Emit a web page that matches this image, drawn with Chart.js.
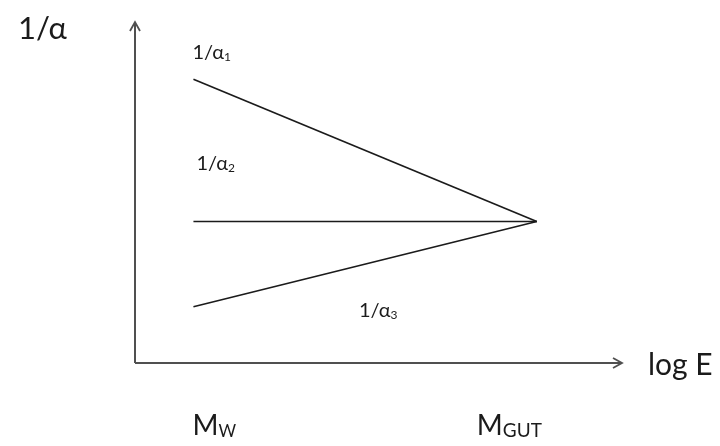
<!DOCTYPE html>
<html>
<head>
<meta charset="utf-8">
<script src="https://cdn.jsdelivr.net/npm/chart.js@4/dist/chart.umd.min.js"></script>
<style>
  html, body { margin: 0; padding: 0; background: #fff; }
  #wrap { width: 720px; height: 446px; position: relative; }
</style>
</head>
<body>
<div id="wrap"><canvas id="c"></canvas></div>
<script>
// Energy scale positions (log E axis, arbitrary units 0..100)
const energyPoints = [12, 82.5];
const energyNames = [['M', 'W'], ['M', 'GUT']];

// Inverse couplings at M_W and at M_GUT (arbitrary units 0..100)
const invAlpha1 = [83.2, 41.5];
const invAlpha2 = [41.5, 41.5];
const invAlpha3 = [16.5, 41.5];

const couplingNames = ['1', '2', '3'];

const FONT = 'Lato, "Open Sans", "DejaVu Sans", sans-serif';
const INK = '#1b1b1b';

function series(values) {
  return values.map((v, i) => ({ x: energyPoints[i], y: v }));
}

// Draws the two axes as arrows along the edges of the plot area
const arrowAxes = {
  id: 'arrowAxes',
  beforeDatasetsDraw(chart) {
    const { ctx, chartArea: a } = chart;
    ctx.save();
    ctx.strokeStyle = '#505050';
    ctx.lineWidth = 2;
    ctx.lineCap = 'butt';
    ctx.beginPath();
    ctx.moveTo(a.left, a.bottom);
    ctx.lineTo(a.left, a.top);
    ctx.moveTo(a.left, a.bottom);
    ctx.lineTo(a.right, a.bottom);
    ctx.stroke();
    ctx.lineWidth = 1.8;
    ctx.lineJoin = 'miter';
    ctx.beginPath();
    ctx.moveTo(a.left - 5, a.top + 9);
    ctx.lineTo(a.left, a.top);
    ctx.lineTo(a.left + 5, a.top + 9);
    ctx.moveTo(a.right - 9, a.bottom - 5);
    ctx.lineTo(a.right, a.bottom);
    ctx.lineTo(a.right - 9, a.bottom + 5);
    ctx.stroke();
    ctx.restore();
  }
};

// Text with an optional subscript part
function subText(ctx, x, y, main, sub, size, subSize, drop) {
  ctx.font = size + 'px ' + FONT;
  ctx.fillText(main, x, y);
  const w = ctx.measureText(main).width;
  if (sub) {
    ctx.font = subSize + 'px ' + FONT;
    ctx.fillText(sub, x + w, y + drop);
  }
}

const annotations = {
  id: 'annotations',
  afterDraw(chart) {
    const { ctx, chartArea: a } = chart;
    const xs = chart.scales.x, ys = chart.scales.y;
    const x0 = xs.getPixelForValue(energyPoints[0]);
    const x1 = xs.getPixelForValue(energyPoints[1]);
    ctx.save();
    ctx.fillStyle = INK;
    ctx.textBaseline = 'alphabetic';
    ctx.textAlign = 'left';

    // axis titles
    subText(ctx, 18, 39, '1/\u03b1', '', 31, 0, 0);
    ctx.font = '30px ' + FONT;
    ctx.textBaseline = 'middle';
    ctx.fillText('log E', a.right + 26, a.bottom + 2);
    ctx.textBaseline = 'alphabetic';

    // coupling labels
    subText(ctx, x0 - 1, ys.getPixelForValue(invAlpha1[0]) - 20, '1/\u03b1', couplingNames[0], 20, 12, 2);
    subText(ctx, x0 + 3, ys.getPixelForValue(invAlpha2[0]) - 51, '1/\u03b1', couplingNames[1], 20, 12, 2);
    subText(ctx, xs.getPixelForValue(46), ys.getPixelForValue(invAlpha3[0]) + 10, '1/\u03b1', couplingNames[2], 20, 12, 2);

    // energy scale names
    subText(ctx, x0 - 1, a.bottom + 72, energyNames[0][0], energyNames[0][1], 28, 17, 2);
    subText(ctx, x1 - 60, a.bottom + 72, energyNames[1][0], energyNames[1][1], 28, 19, 2);
    ctx.restore();
  }
};

const lineStyle = { borderColor: INK, borderWidth: 1.7, pointRadius: 0, tension: 0, fill: false };

new Chart(document.getElementById('c'), {
  type: 'line',
  data: {
    datasets: [
      Object.assign({ label: '1/\u03b11', data: series(invAlpha1) }, lineStyle),
      Object.assign({ label: '1/\u03b12', data: series(invAlpha2) }, lineStyle),
      Object.assign({ label: '1/\u03b13', data: series(invAlpha3) }, lineStyle)
    ]
  },
  options: {
    responsive: true,
    maintainAspectRatio: false,
    animation: false,
    layout: { padding: { left: 135, right: 98, top: 22, bottom: 83 } },
    plugins: { legend: { display: false }, tooltip: { enabled: false } },
    scales: {
      x: { type: 'linear', min: 0, max: 100, display: false },
      y: { type: 'linear', min: 0, max: 100, display: false }
    }
  },
  plugins: [arrowAxes, annotations]
});
</script>
</body>
</html>
